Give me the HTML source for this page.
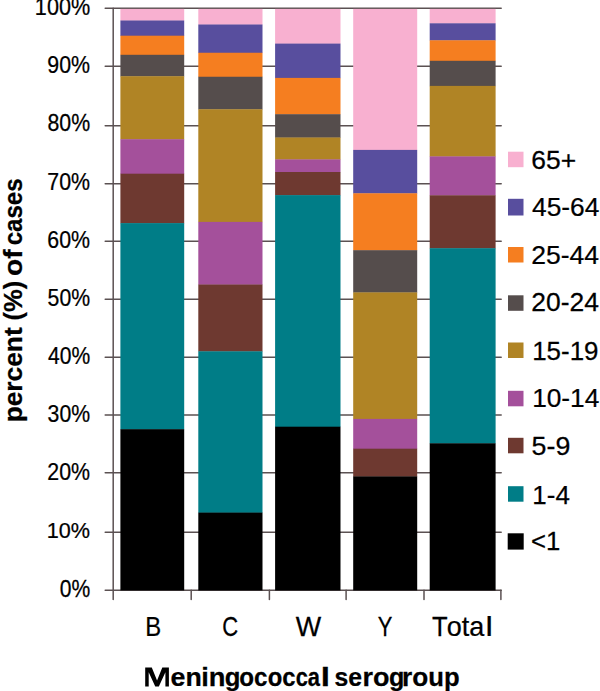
<!DOCTYPE html>
<html><head><meta charset="utf-8"><title>chart</title>
<style>
html,body{margin:0;padding:0;background:#fff;}
body{width:600px;height:691px;overflow:hidden;}
svg{display:block;}
text{font-family:"Liberation Sans",sans-serif;fill:#000;stroke:#000;stroke-width:0.25px;}
.b{font-weight:bold;}
</style></head><body>
<svg width="600" height="691" viewBox="0 0 600 691">
<rect x="0" y="0" width="600" height="691" fill="#ffffff"/>
<g stroke="#5b5152" stroke-width="1.5" stroke-linecap="round" fill="none">
<line x1="105.2" y1="8.35" x2="501.2" y2="8.35"/>
<line x1="105.2" y1="66.2" x2="501.2" y2="66.2"/>
<line x1="105.2" y1="125.87" x2="501.2" y2="125.87"/>
<line x1="105.2" y1="183.67" x2="501.2" y2="183.67"/>
<line x1="105.2" y1="241.33" x2="501.2" y2="241.33"/>
<line x1="105.2" y1="299.2" x2="501.2" y2="299.2"/>
<line x1="105.2" y1="357.13" x2="501.2" y2="357.13"/>
<line x1="105.2" y1="415.0" x2="501.2" y2="415.0"/>
<line x1="105.2" y1="472.8" x2="501.2" y2="472.8"/>
<line x1="105.2" y1="532.13" x2="501.2" y2="532.13"/>
<line x1="105.2" y1="590.15" x2="501.2" y2="590.15"/>
<line x1="113.2" y1="8.35" x2="113.2" y2="599.6"/>
<line x1="191.2" y1="590.15" x2="191.2" y2="599.6"/>
<line x1="269.4" y1="590.15" x2="269.4" y2="599.6"/>
<line x1="346.1" y1="590.15" x2="346.1" y2="599.6"/>
<line x1="424.0" y1="590.15" x2="424.0" y2="599.6"/>
<line x1="500.9" y1="590.15" x2="500.9" y2="599.6"/>
</g>
<rect x="120.4" y="8.9" width="63.80" height="11.90" fill="#f8b0d0"/>
<rect x="120.4" y="20.5" width="63.80" height="15.50" fill="#584e9e"/>
<rect x="120.4" y="35.7" width="63.80" height="19.40" fill="#f57e20"/>
<rect x="120.4" y="54.8" width="63.80" height="21.70" fill="#554d4c"/>
<rect x="120.4" y="76.2" width="63.80" height="63.30" fill="#b08425"/>
<rect x="120.4" y="139.2" width="63.80" height="34.80" fill="#a4509b"/>
<rect x="120.4" y="173.7" width="63.80" height="49.70" fill="#6e3930"/>
<rect x="120.4" y="223.1" width="63.80" height="206.40" fill="#007d87"/>
<rect x="120.4" y="429.2" width="63.80" height="161.25" fill="#000000"/>
<rect x="198.3" y="8.9" width="64.20" height="15.90" fill="#f8b0d0"/>
<rect x="198.3" y="24.5" width="64.20" height="28.55" fill="#584e9e"/>
<rect x="198.3" y="52.75" width="64.20" height="24.30" fill="#f57e20"/>
<rect x="198.3" y="76.75" width="64.20" height="32.80" fill="#554d4c"/>
<rect x="198.3" y="109.25" width="64.20" height="112.95" fill="#b08425"/>
<rect x="198.3" y="221.9" width="64.20" height="62.90" fill="#a4509b"/>
<rect x="198.3" y="284.5" width="64.20" height="67.10" fill="#6e3930"/>
<rect x="198.3" y="351.3" width="64.20" height="161.60" fill="#007d87"/>
<rect x="198.3" y="512.6" width="64.20" height="77.85" fill="#000000"/>
<rect x="275.1" y="8.9" width="65.40" height="35.00" fill="#f8b0d0"/>
<rect x="275.1" y="43.6" width="65.40" height="34.60" fill="#584e9e"/>
<rect x="275.1" y="77.9" width="65.40" height="36.60" fill="#f57e20"/>
<rect x="275.1" y="114.2" width="65.40" height="23.60" fill="#554d4c"/>
<rect x="275.1" y="137.5" width="65.40" height="22.20" fill="#b08425"/>
<rect x="275.1" y="159.4" width="65.40" height="12.90" fill="#a4509b"/>
<rect x="275.1" y="172.0" width="65.40" height="23.40" fill="#6e3930"/>
<rect x="275.1" y="195.1" width="65.40" height="231.90" fill="#007d87"/>
<rect x="275.1" y="426.7" width="65.40" height="163.75" fill="#000000"/>
<rect x="353.2" y="8.9" width="64.00" height="141.30" fill="#f8b0d0"/>
<rect x="353.2" y="149.9" width="64.00" height="43.70" fill="#584e9e"/>
<rect x="353.2" y="193.3" width="64.00" height="57.20" fill="#f57e20"/>
<rect x="353.2" y="250.2" width="64.00" height="42.50" fill="#554d4c"/>
<rect x="353.2" y="292.4" width="64.00" height="126.80" fill="#b08425"/>
<rect x="353.2" y="418.9" width="64.00" height="30.10" fill="#a4509b"/>
<rect x="353.2" y="448.7" width="64.00" height="28.00" fill="#6e3930"/>
<rect x="353.2" y="476.4" width="64.00" height="114.05" fill="#000000"/>
<rect x="429.7" y="8.9" width="65.90" height="14.70" fill="#f8b0d0"/>
<rect x="429.7" y="23.3" width="65.90" height="17.30" fill="#584e9e"/>
<rect x="429.7" y="40.3" width="65.90" height="20.80" fill="#f57e20"/>
<rect x="429.7" y="60.8" width="65.90" height="25.40" fill="#554d4c"/>
<rect x="429.7" y="85.9" width="65.90" height="70.80" fill="#b08425"/>
<rect x="429.7" y="156.4" width="65.90" height="39.20" fill="#a4509b"/>
<rect x="429.7" y="195.3" width="65.90" height="53.20" fill="#6e3930"/>
<rect x="429.7" y="248.2" width="65.90" height="195.40" fill="#007d87"/>
<rect x="429.7" y="443.3" width="65.90" height="147.15" fill="#000000"/>
<rect x="508.0" y="151.7" width="15.5" height="15.5" fill="#f8b0d0"/>
<rect x="508.0" y="198.8" width="15.5" height="16.7" fill="#584e9e"/>
<rect x="508.0" y="247.0" width="15.5" height="15.5" fill="#f57e20"/>
<rect x="508.0" y="295.3" width="15.5" height="15.5" fill="#554d4c"/>
<rect x="508.0" y="342.5" width="15.5" height="15.5" fill="#b08425"/>
<rect x="508.0" y="390.8" width="15.5" height="15.5" fill="#a4509b"/>
<rect x="508.0" y="437.8" width="15.5" height="15.5" fill="#6e3930"/>
<rect x="508.0" y="486.2" width="15.5" height="15.5" fill="#007d87"/>
<rect x="507.7" y="533.3" width="16.0" height="16.3" fill="#000000"/>
<text transform="translate(34.87,15.40) scale(0.9398,1)" font-size="23.0">100%</text>
<text transform="translate(47.37,73.40) scale(0.9285,1)" font-size="23.0">90%</text>
<text transform="translate(47.49,131.30) scale(0.9258,1)" font-size="23.0">80%</text>
<text transform="translate(47.37,190.40) scale(0.9285,1)" font-size="23.0">70%</text>
<text transform="translate(47.37,248.40) scale(0.9285,1)" font-size="23.0">60%</text>
<text transform="translate(47.61,306.40) scale(0.9232,1)" font-size="23.0">50%</text>
<text transform="translate(47.96,364.30) scale(0.9156,1)" font-size="23.0">40%</text>
<text transform="translate(47.61,422.10) scale(0.9232,1)" font-size="23.0">30%</text>
<text transform="translate(47.37,480.10) scale(0.9285,1)" font-size="23.0">20%</text>
<text transform="translate(46.77,537.60) scale(0.9417,1)" font-size="23.0">10%</text>
<text transform="translate(59.71,596.80) scale(0.9165,1)" font-size="23.0">0%</text>
<text transform="translate(145.33,636.10) scale(0.8780,1)" font-size="27.2">B</text>
<text transform="translate(222.34,636.10) scale(0.8114,1)" font-size="27.2">C</text>
<text transform="translate(295.75,636.10) scale(0.9903,1)" font-size="27.2">W</text>
<text transform="translate(377.85,636.10) scale(0.8058,1)" font-size="27.2">Y</text>
<text transform="translate(431.98,636.10) scale(0.9408,1)" font-size="27.2">T</text>
<text transform="translate(446.76,636.10) scale(0.9919,1)" font-size="27.2">ota</text>
<text transform="translate(485.42,636.10) scale(1.2190,1)" font-size="27.2">l</text>
<text transform="translate(531.25,168.50) scale(1.0029,1)" font-size="26.4">65+</text>
<text transform="translate(532.00,216.30) scale(0.9974,1)" font-size="26.4">45-64</text>
<text transform="translate(531.24,264.20) scale(1.0057,1)" font-size="26.4">25-44</text>
<text transform="translate(531.25,311.30) scale(1.0027,1)" font-size="26.4">20-24</text>
<text transform="translate(532.16,359.70) scale(0.9829,1)" font-size="26.4">15-19</text>
<text transform="translate(532.13,406.50) scale(0.9954,1)" font-size="26.4">10-14</text>
<text transform="translate(531.61,455.20) scale(1.0159,1)" font-size="26.4">5-9</text>
<text transform="translate(532.36,503.50) scale(0.9825,1)" font-size="26.4">1-4</text>
<text transform="translate(531.11,550.20) scale(0.9730,1)" font-size="26.4">&lt;1</text>
<text class="b" transform="translate(170.60,686.30) scale(1.0286,1)" font-size="26.0">en</text>
<text class="b" transform="translate(201.26,686.30) scale(1.0516,1)" font-size="26.0">in</text>
<text class="b" transform="translate(224.81,686.30) scale(0.9887,1)" font-size="26.0">g</text>
<text class="b" transform="translate(239.28,686.30) scale(0.9316,1)" font-size="26.0">oc</text>
<text class="b" transform="translate(267.70,686.30) scale(0.9177,1)" font-size="26.0">oc</text>
<text class="b" transform="translate(295.66,686.30) scale(0.8423,1)" font-size="26.0">ca</text>
<text class="b" transform="translate(320.86,686.30) scale(1.2800,1)" font-size="26.0">l</text>
<text class="b" transform="translate(334.48,686.30) scale(0.9534,1)" font-size="26.0">se</text>
<text class="b" transform="translate(362.41,686.30) scale(1.0383,1)" font-size="26.0">ro</text>
<text class="b" transform="translate(389.03,686.30) scale(0.9660,1)" font-size="26.0">g</text>
<text class="b" transform="translate(402.06,686.30) scale(1.0085,1)" font-size="26.0">ro</text>
<text class="b" transform="translate(428.32,686.30) scale(0.9872,1)" font-size="26.0">up</text>
<text class="b" transform="translate(22.40,422.34) rotate(-90) scale(1.0281,1)" font-size="25.6">percent</text>
<text class="b" transform="translate(22.40,320.43) rotate(-90) scale(1.0000,1)" font-size="25.6">(%)</text>
<text class="b" transform="translate(22.40,275.96) rotate(-90) scale(1.0979,1)" font-size="25.6">of</text>
<text class="b" transform="translate(22.40,245.32) rotate(-90) scale(0.9398,1)" font-size="25.6">cases</text>
<path fill="#000" d="M145.20,686.50 L145.20,667.40 L151.80,667.40 L157.05,680.60 L162.30,667.40 L168.90,667.40 L168.90,686.50 L165.40,686.50 L165.40,672.30 L158.85,686.50 L155.25,686.50 L148.70,672.30 L148.70,686.50 Z"/>
</svg>
</body></html>
